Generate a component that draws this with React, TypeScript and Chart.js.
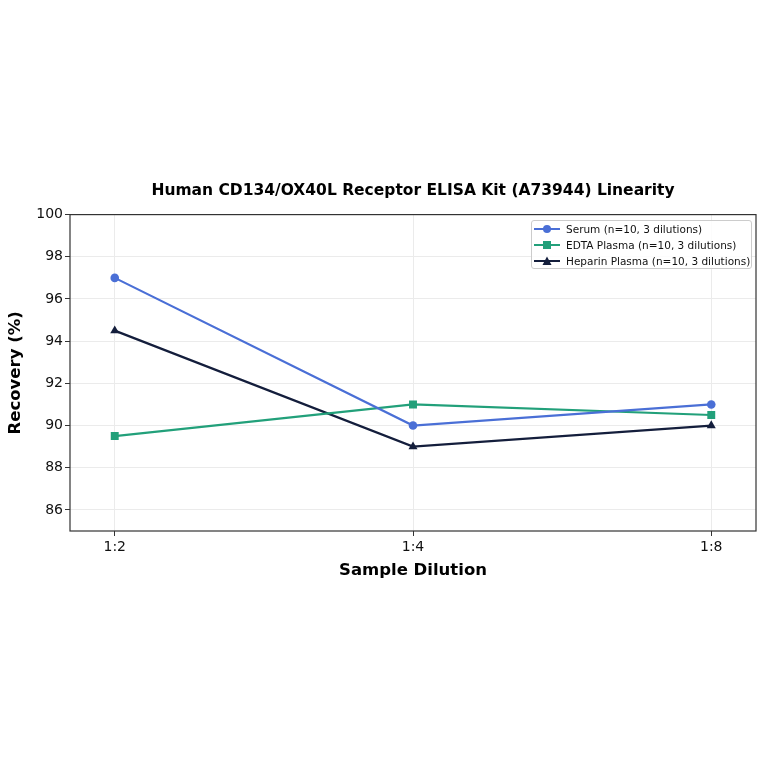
import { useEffect, useRef } from 'react'
import { Chart, registerables } from 'chart.js'

Chart.register(...registerables)

// chart data
const dilutions = ['1:2', '1:4', '1:8']
const serumValues = [97, 90, 91]
const edtaValues = [89.5, 91, 90.5]
const heparinValues = [94.5, 89, 90]
const seriesNames = [
  'Serum (n=10, 3 dilutions)',
  'EDTA Plasma (n=10, 3 dilutions)',
  'Heparin Plasma (n=10, 3 dilutions)'
]
const yTicks = [86, 88, 90, 92, 94, 96, 98, 100]

const COLORS = ['#4a6fd6', '#22a07a', '#141e3c']
const MARKERS = ['circle', 'rect', 'triangle'] as const
const FONT = '"DejaVu Sans", Verdana, sans-serif'

// matplotlib-like frame round the plot area
const framePlugin = {
  id: 'frame',
  afterDraw(chart: Chart) {
    const { ctx, chartArea } = chart
    const { left, top, right, bottom } = chartArea
    ctx.save()
    ctx.strokeStyle = '#333333'
    ctx.lineWidth = 1.2
    ctx.strokeRect(left, top, right - left, bottom - top)
    ctx.restore()
  }
}

const LegendSymbol = ({ color, marker }: { color: string; marker: string }) => (
  <svg width={26} height={12} style={{ display: 'block', flexShrink: 0 }}>
    <line x1={0} y1={6} x2={26} y2={6} stroke={color} strokeWidth={2} />
    {marker === 'circle' && <circle cx={13} cy={6} r={4} fill={color} />}
    {marker === 'rect' && <rect x={9} y={2} width={8} height={8} fill={color} />}
    {marker === 'triangle' && <polygon points="13,1.5 17.5,10 8.5,10" fill={color} />}
  </svg>
)

const App = () => {
  const canvasRef = useRef<HTMLCanvasElement>(null)

  useEffect(() => {
    document.body.style.margin = '0'
    if (!canvasRef.current) return

    const series = [serumValues, edtaValues, heparinValues]

    const chart = new Chart(canvasRef.current, {
      type: 'line',
      data: {
        datasets: series.map((values, i) => ({
          label: seriesNames[i],
          data: values.map((v, j) => ({ x: j, y: v })),
          borderColor: COLORS[i],
          backgroundColor: COLORS[i],
          borderWidth: 2.2,
          pointStyle: MARKERS[i],
          pointRadius: i === 1 ? 5.6 : i === 2 ? 5.2 : 4.3,
          pointBorderWidth: 0,
          tension: 0,
          fill: false
        }))
      },
      options: {
        responsive: false,
        animation: false,
        layout: { padding: { left: 0, right: 8, top: 0, bottom: 179 } },
        plugins: {
          legend: { display: false },
          tooltip: { enabled: false },
          title: {
            display: true,
            fullSize: false,
            text: 'Human CD134/OX40L Receptor ELISA Kit (A73944) Linearity',
            color: '#000000',
            font: { family: FONT, size: 15.5, weight: 'bold', lineHeight: 1.2 },
            padding: { top: 182, bottom: 14 }
          }
        },
        scales: {
          x: {
            type: 'linear',
            min: -0.15,
            max: 2.15,
            afterBuildTicks: (scale) => {
              scale.ticks = dilutions.map((_, i) => ({ value: i }))
            },
            afterFit: (scale) => {
              scale.height = 54
            },
            border: { display: false },
            grid: { color: '#ebebeb', lineWidth: 1, tickLength: 5, tickColor: '#333333' },
            ticks: {
              color: '#111111',
              font: { family: FONT, size: 14 },
              padding: 3,
              maxRotation: 0,
              callback: (value) => dilutions[Number(value)] ?? ''
            },
            title: {
              display: true,
              text: 'Sample Dilution',
              color: '#000000',
              font: { family: FONT, size: 16.5, weight: 'bold', lineHeight: 1.2 },
              padding: { top: 4, bottom: 4 }
            }
          },
          y: {
            min: 85,
            max: 100,
            afterBuildTicks: (scale) => {
              scale.ticks = yTicks.map((v) => ({ value: v }))
            },
            afterFit: (scale) => {
              scale.width = 70
            },
            border: { display: false },
            grid: { color: '#ebebeb', lineWidth: 1, tickLength: 5, tickColor: '#333333' },
            ticks: {
              color: '#111111',
              font: { family: FONT, size: 14 },
              padding: 2
            },
            title: {
              display: true,
              text: 'Recovery (%)',
              color: '#000000',
              font: { family: FONT, size: 16.5, weight: 'bold', lineHeight: 1.2 },
              padding: { top: 6, bottom: 4 }
            }
          }
        }
      },
      plugins: [framePlugin]
    })

    return () => {
      chart.destroy()
    }
  }, [])

  return (
    <div style={{ position: 'relative', width: 764, height: 764, background: '#ffffff' }}>
      <canvas ref={canvasRef} width={764} height={764} style={{ width: 764, height: 764 }} />
      <div
        style={{
          position: 'absolute',
          left: 531,
          top: 220,
          width: 221,
          height: 49,
          boxSizing: 'border-box',
          border: '1px solid #cccccc',
          borderRadius: 3,
          background: 'rgba(255,255,255,0.85)',
          fontFamily: FONT,
          fontSize: 10.5,
          color: '#111111',
          padding: '0 0 0 2px'
        }}
      >
        {seriesNames.map((name, i) => (
          <div key={name} style={{ display: 'flex', alignItems: 'center', height: 16, whiteSpace: 'nowrap' }}>
            <LegendSymbol color={COLORS[i]} marker={MARKERS[i]} />
            <span style={{ marginLeft: 6 }}>{name}</span>
          </div>
        ))}
      </div>
    </div>
  )
}

export default App
